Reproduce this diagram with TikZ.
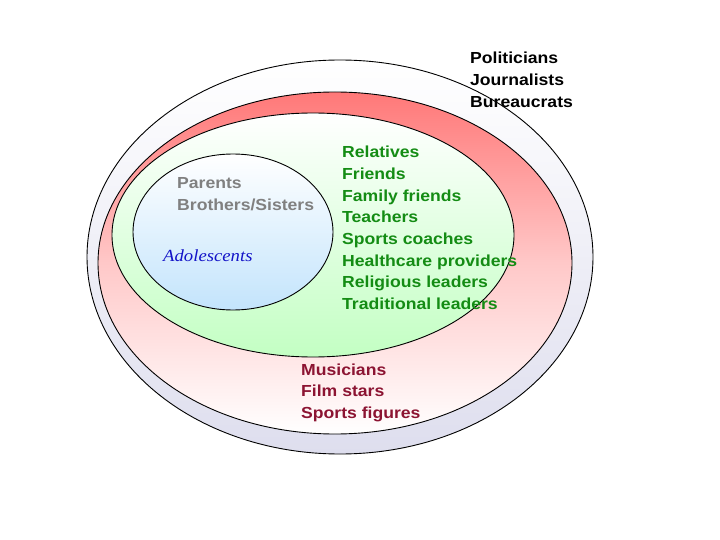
\documentclass[tikz,border=0pt]{standalone}
\usepackage{fontspec}
\setmainfont{Liberation Sans}
\newfontfamily\widefont[FakeStretch=1.1]{Liberation Sans}
\newfontfamily\handfont[FakeStretch=1.1]{Liberation Serif}
\begin{document}
\begin{tikzpicture}[x=1pt,y=-1pt,
  ring/.style={draw=black,line width=0.9pt},
  lbl/.style={anchor=base west,inner sep=0pt,font=\widefont\fontsize{16}{18}\selectfont\bfseries}]
\useasboundingbox (0,0) rectangle (720,540);
\fill[white] (0,0) rectangle (720,540);
\shade[top color=white,bottom color={rgb,255:red,222;green,222;blue,238},ring] (340,257) ellipse [x radius=253,y radius=197];
\shade[top color={rgb,255:red,255;green,120;blue,120},bottom color=white,middle color={rgb,255:red,255;green,200;blue,200},ring] (335,263) ellipse [x radius=237,y radius=171];
\shade[top color=white,bottom color={rgb,255:red,195;green,255;blue,195},ring] (313,235) ellipse [x radius=201,y radius=122];
\shade[top color=white,bottom color={rgb,255:red,195;green,228;blue,252},ring] (233,232) ellipse [x radius=100,y radius=78];
\foreach \t [count=\i from 0] in {Politicians,Journalists,Bureaucrats}
  \node[lbl,text=black] (p\i) at (470,64+22*\i) {\t};
\foreach \t [count=\i from 0] in {Relatives,Friends,Family friends,Teachers,Sports coaches,Healthcare providers,Religious leaders,Traditional leaders}
  \node[lbl,text={rgb,255:red,20;green,140;blue,20}] (g\i) at (342,158+21.6*\i) {\t};
\foreach \t [count=\i from 0] in {Parents,Brothers/Sisters}
  \node[lbl,text={rgb,255:red,128;green,128;blue,128}] (f\i) at (177,189+22*\i) {\t};
\foreach \t [count=\i from 0] in {Musicians,Film stars,Sports figures}
  \node[lbl,text={rgb,255:red,140;green,20;blue,50}] (m\i) at (301,375+21.6*\i) {\t};
\node[anchor=base west,inner sep=0pt,font=\handfont\itshape\fontsize{17}{20}\selectfont,text={rgb,255:red,20;green,20;blue,200}] (ado) at (163,261) {Adolescents};
\end{tikzpicture}
\end{document}
